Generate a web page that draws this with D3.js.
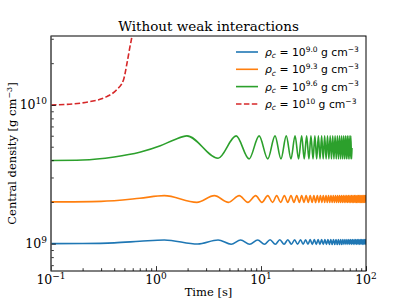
<!DOCTYPE html>
<html>
<head>
<meta charset="utf-8">
<script src="https://cdn.jsdelivr.net/npm/d3@7"></script>
<style>
  body { margin: 0; background: #fff; }
  svg { display: block; }
</style>
</head>
<body>
<div id="main"></div>
<script>
// central density vs time, values stored as log10(rho [g cm^-3])
const xTickExp = [-1, 0, 1, 2];
const yTickExp = [9, 10];
const seriesNames = ["9.0", "9.3", "9.6", "10"];
const seriesColors = ["#1f77b4", "#ff7f0e", "#2ca02c", "#d62728"];

const blue = [
  [0.1, 9.000], [0.2, 9.001], [0.4, 9.006], [0.7, 9.017], [1.2, 9.027], [2.5, 8.998],
  [3.9, 9.027], [5.2, 8.996], [6.4, 9.027], [7.8, 8.996], [9.3, 9.027], [10.8, 8.996],
  [12.2, 9.028], [13.7, 8.996], [15.1, 9.028], [16.6, 8.996], [18.0, 9.028], [19.5, 8.996],
  [20.9, 9.028], [22.3, 8.996], [23.8, 9.028], [25.2, 8.996], [26.6, 9.028], [28.0, 8.996],
  [29.4, 9.029], [30.8, 8.995], [32.2, 9.029], [33.6, 8.995], [35.0, 9.029], [36.4, 8.995],
  [37.8, 9.029], [39.2, 8.995], [40.6, 9.029], [42.0, 8.995], [43.4, 9.029], [44.8, 8.995],
  [46.2, 9.029], [47.6, 8.995], [49.0, 9.029], [50.4, 8.995], [51.8, 9.029], [53.2, 8.995],
  [54.6, 9.029], [56.0, 8.995], [57.4, 9.029], [58.8, 8.995], [60.2, 9.029], [61.6, 8.995],
  [63.0, 9.029], [64.4, 8.995], [65.8, 9.029], [67.2, 8.995], [68.6, 9.029], [70.0, 8.995],
  [71.4, 9.029], [72.8, 8.995], [74.2, 9.029], [75.6, 8.995], [77.0, 9.029], [78.4, 8.995],
  [79.8, 9.029], [81.2, 8.995], [82.6, 9.029], [84.0, 8.995], [85.4, 9.029], [86.8, 8.995],
  [88.2, 9.029], [89.6, 8.995], [91.0, 9.029], [92.4, 8.995], [93.8, 9.029], [95.2, 8.995],
  [96.6, 9.029], [98.0, 8.995], [99.4, 9.029], [100, 9.012]
];

const orange = [
  [0.1, 9.301], [0.3, 9.305], [0.7, 9.327], [1.2, 9.346], [2.45, 9.298],
  [3.6, 9.346], [4.9, 9.298], [6.2, 9.346], [7.5, 9.298], [8.9, 9.346], [10.2, 9.298],
  [11.6, 9.346], [12.9, 9.298], [14.1, 9.346], [15.4, 9.298], [16.7, 9.346], [18.0, 9.298],
  [19.3, 9.346], [20.6, 9.298], [21.9, 9.346], [23.2, 9.298], [24.4, 9.346], [25.7, 9.298],
  [26.9, 9.347], [28.2, 9.297], [29.4, 9.347], [30.7, 9.297], [31.9, 9.347], [33.1, 9.297],
  [34.4, 9.347], [35.6, 9.297], [36.8, 9.347], [38.0, 9.297], [39.2, 9.347], [40.4, 9.297],
  [41.6, 9.347], [42.8, 9.297], [44.0, 9.347], [45.2, 9.297], [46.4, 9.347], [47.6, 9.297],
  [48.8, 9.347], [50.0, 9.297], [51.2, 9.347], [52.4, 9.297], [53.6, 9.347], [54.8, 9.297],
  [56.0, 9.347], [57.2, 9.297], [58.4, 9.347], [59.6, 9.297], [60.8, 9.347], [62.0, 9.297],
  [63.2, 9.347], [64.4, 9.297], [65.6, 9.347], [66.8, 9.297], [68.0, 9.347], [69.2, 9.297],
  [70.4, 9.347], [71.6, 9.297], [72.8, 9.347], [74.0, 9.297], [75.2, 9.347], [76.4, 9.297],
  [77.6, 9.347], [78.8, 9.297], [80.0, 9.347], [81.2, 9.297], [82.4, 9.347], [83.6, 9.297],
  [84.8, 9.347], [86.0, 9.297], [87.2, 9.347], [88.4, 9.297], [89.6, 9.347], [90.8, 9.297],
  [92.0, 9.347], [93.2, 9.297], [94.4, 9.347], [95.6, 9.297], [96.8, 9.347], [98.0, 9.297],
  [99.2, 9.347], [100, 9.322]
];

const green = [
  [0.1, 9.600], [0.2, 9.603], [0.4, 9.625], [0.7, 9.659], [1.1, 9.705], [1.5, 9.750], [1.97, 9.777],
  [3.9, 9.616], [5.8, 9.777], [7.7, 9.611], [9.6, 9.777], [11.6, 9.611], [13.6, 9.777],
  [15.5, 9.611], [17.4, 9.777], [19.3, 9.611], [21.1, 9.777], [22.8, 9.611], [24.4, 9.777],
  [25.8, 9.611], [27.2, 9.777], [28.6, 9.611], [29.9, 9.777], [31.3, 9.611], [32.6, 9.777],
  [33.9, 9.611], [35.2, 9.777], [36.5, 9.611], [37.8, 9.777], [39.1, 9.611], [40.4, 9.777],
  [41.7, 9.611], [43.0, 9.777], [44.3, 9.611], [45.6, 9.777], [46.9, 9.611], [48.2, 9.777],
  [49.5, 9.611], [50.8, 9.777], [52.1, 9.611], [53.4, 9.777], [54.7, 9.611], [56.0, 9.777],
  [57.3, 9.611], [58.6, 9.777], [59.9, 9.611], [61.2, 9.777], [62.5, 9.611], [63.8, 9.777],
  [65.1, 9.611], [66.4, 9.777], [67.7, 9.611], [69.0, 9.777], [70.3, 9.611], [71.6, 9.777],
  [72.9, 9.611], [73.5, 9.690]
];

const red = [
  [0.1, 10.000], [0.16, 10.007], [0.235, 10.024], [0.34, 10.060], [0.42, 10.108],
  [0.49, 10.180], [0.53, 10.303], [0.565, 10.420], [0.59, 10.497], [0.61, 10.600]
];

const seriesData = [blue, orange, green, red];

const width = 407, height = 305;
const plot = { left: 51, right: 366, top: 36, bottom: 271 };

const x = d3.scaleLog().domain([0.1, 100]).range([plot.left, plot.right]);
const y = d3.scaleLog().domain([Math.pow(10, 8.803), Math.pow(10, 10.497)]).range([plot.bottom, plot.top]);

const svg = d3.select("#main").append("svg")
  .attr("width", width)
  .attr("height", height);

svg.append("defs").append("clipPath").attr("id", "clip")
  .append("rect")
  .attr("x", plot.left).attr("y", plot.top)
  .attr("width", plot.right - plot.left).attr("height", plot.bottom - plot.top);

const line = d3.line()
  .x(d => x(d[0]))
  .y(d => y(Math.pow(10, d[1])))
  .curve(d3.curveMonotoneX);

const lines = svg.append("g").attr("clip-path", "url(#clip)");
seriesData.forEach((s, i) => {
  lines.append("path")
    .datum(s)
    .attr("d", line)
    .attr("fill", "none")
    .attr("stroke", seriesColors[i])
    .attr("stroke-width", 1.6)
    .attr("stroke-dasharray", i === 3 ? "5.5,2.4" : null);
});

// minor ticks (inward)
const isPow10 = v => Math.abs(Math.log10(v) - Math.round(Math.log10(v))) < 1e-9;
const xMinor = x.ticks().filter(v => !isPow10(v));
const yMinor = y.ticks().filter(v => !isPow10(v));

svg.append("g")
  .attr("transform", `translate(0,${plot.bottom})`)
  .call(d3.axisBottom(x).tickValues(xMinor).tickSize(-2.8).tickFormat(""))
  .call(g => g.select(".domain").remove());
svg.append("g")
  .attr("transform", `translate(${plot.left},0)`)
  .call(d3.axisLeft(y).tickValues(yMinor).tickSize(-2.8).tickFormat(""))
  .call(g => g.select(".domain").remove());

// major ticks
svg.append("g")
  .attr("transform", `translate(0,${plot.bottom})`)
  .call(d3.axisBottom(x).tickValues(xTickExp.map(e => Math.pow(10, e))).tickSize(-4.9).tickFormat(""))
  .call(g => g.select(".domain").remove());
svg.append("g")
  .attr("transform", `translate(${plot.left},0)`)
  .call(d3.axisLeft(y).tickValues(yTickExp.map(e => Math.pow(10, e))).tickSize(-4.9).tickFormat(""))
  .call(g => g.select(".domain").remove());

svg.selectAll(".tick line").attr("stroke", "#000").attr("stroke-width", 0.8);

// tick labels with superscripts
const serif = "DejaVu Serif, serif";
const sans = "DejaVu Sans, sans-serif";

xTickExp.forEach(e => {
  const t = svg.append("text")
    .attr("x", x(Math.pow(10, e)))
    .attr("y", plot.bottom + 13)
    .attr("text-anchor", "middle")
    .attr("font-family", serif)
    .attr("font-size", 12.5);
  t.append("tspan").text("10");
  t.append("tspan").attr("dy", -5).attr("font-size", 9).text(e < 0 ? "\u2212" + (-e) : e);
});

yTickExp.forEach(e => {
  const t = svg.append("text")
    .attr("x", plot.left - 4)
    .attr("y", y(Math.pow(10, e)) + 4.5)
    .attr("text-anchor", "end")
    .attr("font-family", serif)
    .attr("font-size", 12.5);
  t.append("tspan").text("10");
  t.append("tspan").attr("dy", -5).attr("font-size", 9).text(e);
});

// frame
svg.append("rect")
  .attr("x", plot.left).attr("y", plot.top)
  .attr("width", plot.right - plot.left).attr("height", plot.bottom - plot.top)
  .attr("fill", "none").attr("stroke", "#000").attr("stroke-width", 1);
svg.append("line")
  .attr("x1", plot.left).attr("x2", plot.left)
  .attr("y1", plot.top).attr("y2", plot.bottom)
  .attr("stroke", "#666").attr("stroke-width", 1.2);

// title and axis labels
svg.append("text")
  .attr("x", (plot.left + plot.right) / 2)
  .attr("y", 31)
  .attr("text-anchor", "middle")
  .attr("font-family", serif)
  .attr("font-size", 13.5)
  .text("Without weak interactions");

svg.append("text")
  .attr("x", (plot.left + plot.right) / 2)
  .attr("y", 296)
  .attr("text-anchor", "middle")
  .attr("font-family", serif)
  .attr("font-size", 11.5)
  .text("Time [s]");

const yl = svg.append("text")
  .attr("transform", `translate(16,${(plot.top + plot.bottom) / 2}) rotate(-90)`)
  .attr("text-anchor", "middle")
  .attr("font-family", serif)
  .attr("font-size", 11.5);
yl.append("tspan").text("Central density [g cm");
yl.append("tspan").attr("dy", -4.5).attr("font-size", 8).text("\u22123");
yl.append("tspan").attr("dy", 4.5).text("]");

// legend
const legendY = [52, 69.3, 86.6, 104];
seriesNames.forEach((name, i) => {
  const ly = legendY[i];
  svg.append("line")
    .attr("x1", 236).attr("x2", 258)
    .attr("y1", ly).attr("y2", ly)
    .attr("stroke", seriesColors[i])
    .attr("stroke-width", 1.6)
    .attr("stroke-dasharray", i === 3 ? "5.5,2.4" : null);
  const t = svg.append("text")
    .attr("x", 265)
    .attr("y", ly + 4)
    .attr("font-family", sans)
    .attr("font-size", 10.8);
  t.append("tspan").attr("font-style", "italic").text("\u03C1");
  t.append("tspan").attr("font-style", "italic").attr("font-size", 7.5).attr("dy", 2.2).text("c");
  t.append("tspan").attr("dy", -2.2).text(" = 10");
  t.append("tspan").attr("font-size", 7.5).attr("dy", -4.5).text(name);
  t.append("tspan").attr("dy", 4.5).text(" g cm");
  t.append("tspan").attr("font-size", 7.5).attr("dy", -4.5).text("\u22123");
});
</script>
</body>
</html>
